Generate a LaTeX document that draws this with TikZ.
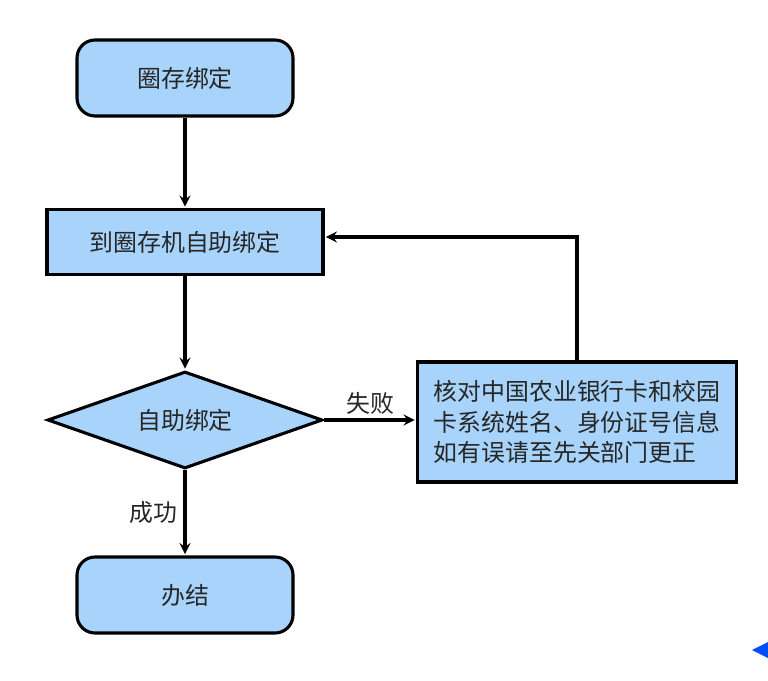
\documentclass[tikz,border=0pt]{standalone}
\usepackage{fontspec}
\setmainfont{Noto Sans CJK SC}
\usetikzlibrary{shapes.geometric}

\definecolor{boxblue}{RGB}{168,212,252}

\tikzset{
  box/.style = {draw, line width=2.2pt, fill=boxblue, inner sep=0pt},
  roundbox/.style = {box, rounded corners=0.45cm, minimum width=5.4cm, minimum height=1.9cm},
  flowline/.style = {line width=2.4pt, ->, >=stealth, shorten >=1pt}
}

\begin{document}
\begin{tikzpicture}[font=\fontsize{17}{21.5}\selectfont, text=black!85]

    \useasboundingbox (0,0) rectangle (19.2,-17);

    % Steps
    \node[roundbox] (start) at (4.625,-1.95) {圈存绑定};
    \node[box, minimum width=6.9cm, minimum height=1.625cm] (bind) at (4.625,-6.05) {到圈存机自助绑定};
    \node[box, diamond, aspect=2.8, minimum width=6.875cm, minimum height=2.425cm] (check) at (4.625,-10.5) {自助绑定};
    \node[box, minimum width=7.975cm, minimum height=3cm, align=left, inner sep=0.2cm] (fix) at (14.425,-10.55) {核对中国农业银行卡和校园\\卡系统姓名、身份证号信息\\如有误请至先关部门更正};
    \node[roundbox] (done) at (4.625,-14.875) {办结};
    \coordinate (back) at ([yshift=0.125cm]bind.east);

    % Arrows
    \draw[flowline] (start) -- (bind);
    \draw[flowline] (bind) -- (check);
    \draw[flowline] (check.east) -- node[above, inner sep=3pt] {失败} (check.east -| fix.west);
    \draw[flowline] (check.south) -- node[left, inner sep=4pt] {成功} (done.north);
    \draw[flowline] (fix.north) |- (back);

    % corner mark
    \fill[blue!70!cyan] (18.8,-16.25) -- (19.2,-16.05) -- (19.2,-16.45) -- cycle;

\end{tikzpicture}
\end{document}
